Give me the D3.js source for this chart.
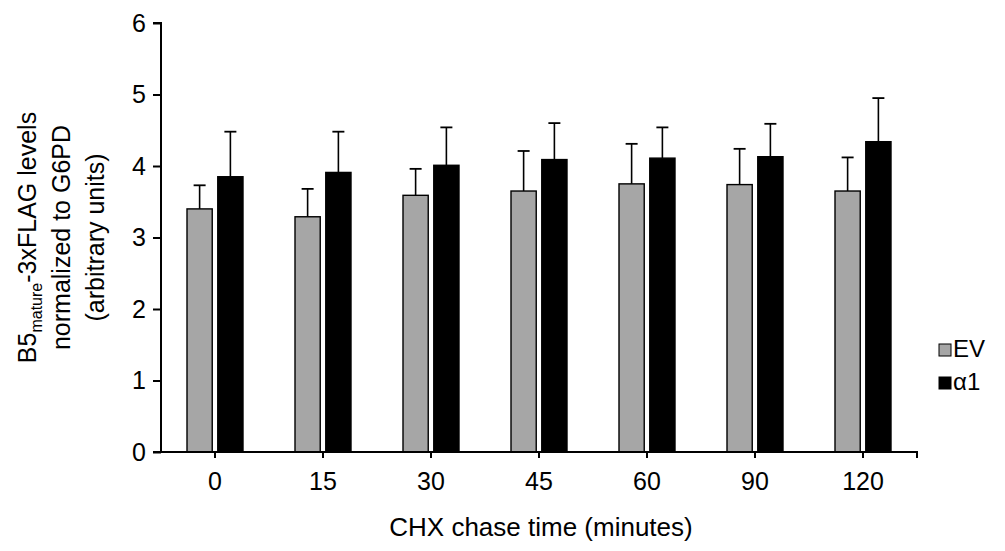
<!DOCTYPE html>
<html>
<head>
<meta charset="utf-8">
<script src="https://cdn.jsdelivr.net/npm/d3@7"></script>
<style>
  body { margin: 0; background: #fff; }
  text { font-family: "Liberation Sans", Arial, sans-serif; fill: #000; }
</style>
</head>
<body>
<div id="chart"></div>
<script>
// data
var times = ["0", "15", "30", "45", "60", "90", "120"];
var series = ["EV", "α1"];
var evValues = [3.40, 3.29, 3.59, 3.65, 3.75, 3.74, 3.65];
var evErrors = [0.33, 0.39, 0.37, 0.56, 0.56, 0.50, 0.47];
var a1Values = [3.85, 3.91, 4.01, 4.09, 4.11, 4.13, 4.34];
var a1Errors = [0.63, 0.57, 0.53, 0.51, 0.43, 0.46, 0.61];
var yTicks = [0, 1, 2, 3, 4, 5, 6];
var colors = ["#a6a6a6", "#000000"];

var W = 1005, H = 551;
var margin = {top: 23, right: 88, bottom: 99, left: 161},
    width = W - margin.left - margin.right,
    height = H - margin.top - margin.bottom;

var svg = d3.select("#chart")
  .append("svg")
    .attr("width", W)
    .attr("height", H)
  .append("g")
    .attr("transform", "translate(" + margin.left + "," + margin.top + ")");

var x = d3.scaleBand()
  .domain(times)
  .range([0, width]);

var xInner = d3.scaleBand()
  .domain(series)
  .range([x.bandwidth() / 2 - 28, x.bandwidth() / 2 + 28])
  .paddingInner(0.18);

var y = d3.scaleLinear()
  .domain([0, 6])
  .range([height, 0]);

var rows = times.map(function(t, i) {
  return [
    {time: t, s: series[0], v: evValues[i], e: evErrors[i], c: colors[0]},
    {time: t, s: series[1], v: a1Values[i], e: a1Errors[i], c: colors[1]}
  ];
});

var groups = svg.selectAll("g.grp")
  .data(rows)
  .enter().append("g")
    .attr("class", "grp")
    .attr("transform", function(d) { return "translate(" + x(d[0].time) + ",0)"; });

// error bars, upper half only
groups.selectAll("line.err")
  .data(function(d) { return d; })
  .enter().append("line")
    .attr("x1", function(d) { return xInner(d.s) + xInner.bandwidth() / 2; })
    .attr("x2", function(d) { return xInner(d.s) + xInner.bandwidth() / 2; })
    .attr("y1", function(d) { return y(d.v); })
    .attr("y2", function(d) { return y(d.v + d.e); })
    .attr("stroke", "#000")
    .attr("stroke-width", 1.6);

groups.selectAll("line.cap")
  .data(function(d) { return d; })
  .enter().append("line")
    .attr("x1", function(d) { return xInner(d.s) + xInner.bandwidth() / 2 - 6; })
    .attr("x2", function(d) { return xInner(d.s) + xInner.bandwidth() / 2 + 6; })
    .attr("y1", function(d) { return y(d.v + d.e); })
    .attr("y2", function(d) { return y(d.v + d.e); })
    .attr("stroke", "#000")
    .attr("stroke-width", 1.8);

groups.selectAll("rect")
  .data(function(d) { return d; })
  .enter().append("rect")
    .attr("x", function(d) { return xInner(d.s); })
    .attr("y", function(d) { return y(d.v); })
    .attr("width", xInner.bandwidth())
    .attr("height", function(d) { return height - y(d.v); })
    .attr("fill", function(d) { return d.c; })
    .attr("stroke", "#000")
    .attr("stroke-width", 1.4);

// Y axis
var yAxis = svg.append("g")
  .call(d3.axisLeft(y).tickValues(yTicks).tickFormat(d3.format("d")).tickSize(8).tickPadding(7));
yAxis.selectAll("text").style("font-size", "25px");
yAxis.selectAll("line, path").attr("stroke", "#000").attr("stroke-width", 2);
yAxis.select(".domain").attr("d", "M0," + height + "V0H-8");

// X axis
var xAxis = svg.append("g")
  .attr("transform", "translate(0," + height + ")")
  .call(d3.axisBottom(x).tickSize(6).tickSizeOuter(0).tickPadding(14));
xAxis.selectAll("text").style("font-size", "25px");
xAxis.selectAll("line, path").attr("stroke", "#000").attr("stroke-width", 2);
xAxis.select(".domain").attr("d", "M-8,0H" + width + "V6");

// axis titles
svg.append("text")
  .attr("text-anchor", "middle")
  .attr("x", 380)
  .attr("y", height + 84)
  .style("font-size", "26px")
  .text("CHX chase time (minutes)");

var yTitle = svg.append("text")
  .attr("text-anchor", "middle")
  .attr("transform", "translate(-125," + (height / 2) + ") rotate(-90)")
  .style("font-size", "25px");
var l1 = yTitle.append("tspan").attr("x", 0).attr("dy", 0);
l1.append("tspan").text("B5");
l1.append("tspan").attr("dy", 6).style("font-size", "16px").text("mature");
l1.append("tspan").attr("dy", -6).text("-3xFLAG levels");
yTitle.append("tspan").attr("x", 0).attr("dy", 34).text("normalized to G6PD");
yTitle.append("tspan").attr("x", 0).attr("dy", 34).text("(arbitrary units)");

// legend
var legend = svg.selectAll("g.leg")
  .data(series)
  .enter().append("g")
    .attr("class", "leg")
    .attr("transform", function(d, i) { return "translate(" + (width + 22) + "," + (321 + i * 33) + ")"; });
legend.append("rect")
  .attr("width", 12).attr("height", 12)
  .attr("fill", function(d, i) { return colors[i]; })
  .attr("stroke", "#000").attr("stroke-width", 1);
legend.append("text")
  .attr("x", 14).attr("y", 13)
  .style("font-size", "24px")
  .text(function(d) { return d; });
</script>
</body>
</html>
